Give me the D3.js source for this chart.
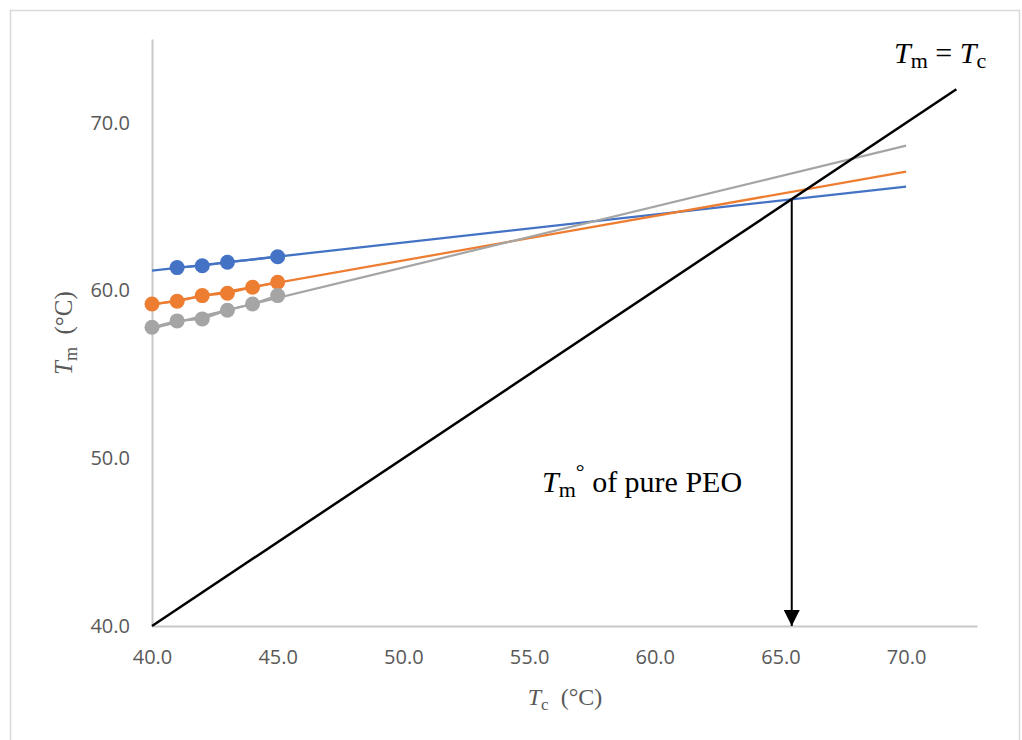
<!DOCTYPE html>
<html>
<head>
<meta charset="utf-8">
<script src="https://cdn.jsdelivr.net/npm/d3@7"></script>
<style>
  body { margin: 0; background: #fff; }
  .tick text { font-family: "Open Sans", sans-serif; font-size: 20px; fill: #595959; }
</style>
</head>
<body>
<script>
// measured data (Tc in °C, Tm in °C)
const xTicks = [40, 45, 50, 55, 60, 65, 70];
const yTicks = [40, 50, 60, 70];

const blueTc = [41, 42, 43, 45];
const blueTm = [61.37, 61.48, 61.69, 62.02];
const orangeTc = [40, 41, 42, 43, 44, 45];
const orangeTm = [59.20, 59.36, 59.70, 59.84, 60.20, 60.50];
const grayTc = [40, 41, 42, 43, 44, 45];
const grayTm = [57.81, 58.19, 58.31, 58.83, 59.20, 59.70];

// trend lines, Tc from 40 to 70
const trendTc = [40, 70];
const blueTrend = [61.19, 66.20];
const orangeTrend = [59.15, 67.09];
const grayTrend = [57.75, 68.64];

// Tm = Tc line and extrapolated Tm°
const equalLine = [40, 72];
const tmZero = 65.45;

const width = 1022, height = 740;

const svg = d3.select("body").append("svg")
  .attr("width", width)
  .attr("height", height);

// chart border
svg.append("rect")
  .attr("x", 10.5).attr("y", 10.5)
  .attr("width", 1009).attr("height", 740)
  .attr("fill", "none")
  .attr("stroke", "#D9D9D9")
  .attr("stroke-width", 1.5);

const x = d3.scaleLinear().domain([40, 72.82]).range([152, 977]);
const y = d3.scaleLinear().domain([40, 75]).range([626, 39]);

const fmt = d3.format(".1f");

// x axis
svg.append("g")
  .attr("transform", "translate(0," + y(40) + ")")
  .call(d3.axisBottom(x).tickValues(xTicks).tickSize(0).tickSizeOuter(0).tickFormat(fmt).tickPadding(24));
// y axis
svg.append("g")
  .attr("transform", "translate(" + x(40) + ",0)")
  .call(d3.axisLeft(y).tickValues(yTicks).tickSize(0).tickSizeOuter(0).tickFormat(fmt).tickPadding(22));

svg.selectAll(".domain").attr("stroke", "#C8C8C8").attr("stroke-width", 2);

// series
const series = [
  {tc: blueTc, tm: blueTm, trend: blueTrend, color: "#4472C4"},
  {tc: orangeTc, tm: orangeTm, trend: orangeTrend, color: "#ED7D31"},
  {tc: grayTc, tm: grayTm, trend: grayTrend, color: "#A5A5A5"}
];

const line = d3.line().x(d => x(d[0])).y(d => y(d[1]));

series.forEach(s => {
  svg.append("path")
    .datum(trendTc.map((t, i) => [t, s.trend[i]]))
    .attr("d", line)
    .attr("fill", "none")
    .attr("stroke", s.color)
    .attr("stroke-width", 2.25);
});

// connecting segments between markers, drawn under markers
series.forEach(s => {
  svg.append("path")
    .datum(s.tc.map((t, i) => [t, s.tm[i]]))
    .attr("d", line)
    .attr("fill", "none")
    .attr("stroke", s.color)
    .attr("stroke-width", 2.25);
  svg.selectAll(null)
    .data(s.tc.map((t, i) => [t, s.tm[i]]))
    .enter().append("circle")
    .attr("cx", d => x(d[0]))
    .attr("cy", d => y(d[1]))
    .attr("r", 7.5)
    .attr("fill", s.color);
});

// Tm = Tc line
svg.append("path")
  .datum(equalLine.map(v => [v, v]))
  .attr("d", line)
  .attr("fill", "none")
  .attr("stroke", "#000")
  .attr("stroke-width", 2.5);

// arrow down to Tm°
svg.append("defs").append("marker")
  .attr("id", "arrow")
  .attr("viewBox", "0 0 10 10")
  .attr("refX", 10).attr("refY", 5)
  .attr("markerUnits", "userSpaceOnUse")
  .attr("markerWidth", 16).attr("markerHeight", 16)
  .attr("orient", "auto")
  .append("path")
  .attr("d", "M0,0 L10,5 L0,10 Z")
  .attr("fill", "#000");

svg.append("line")
  .attr("x1", x(tmZero)).attr("y1", y(tmZero))
  .attr("x2", x(tmZero)).attr("y2", y(40))
  .attr("stroke", "#000")
  .attr("stroke-width", 2)
  .attr("marker-end", "url(#arrow)");

// axis titles
const serif = "'Liberation Serif', 'Times New Roman', serif";

const xt = svg.append("text")
  .attr("x", 565).attr("y", 705)
  .attr("text-anchor", "middle")
  .attr("font-family", serif).attr("font-size", 24).attr("fill", "#595959");
xt.append("tspan").attr("font-style", "italic").text("T");
xt.append("tspan").attr("font-size", 17).attr("dy", 5).text("c");
xt.append("tspan").attr("dy", -5).text("\u00a0 (°C)");

const yt = svg.append("text")
  .attr("transform", "translate(72,333) rotate(-90)")
  .attr("text-anchor", "middle")
  .attr("font-family", serif).attr("font-size", 25).attr("fill", "#595959");
yt.append("tspan").attr("font-style", "italic").text("T");
yt.append("tspan").attr("font-size", 18).attr("dy", 5).text("m");
yt.append("tspan").attr("dy", -5).text("\u00a0 (°C)");

// annotations
const a1 = svg.append("text")
  .attr("x", 894).attr("y", 63)
  .attr("font-family", serif).attr("font-size", 30).attr("fill", "#000");
a1.append("tspan").attr("font-style", "italic").text("T");
a1.append("tspan").attr("font-size", 22).attr("dy", 5).text("m");
a1.append("tspan").attr("dy", -5).text(" = ");
a1.append("tspan").attr("font-style", "italic").text("T");
a1.append("tspan").attr("font-size", 22).attr("dy", 5).text("c");

const a2 = svg.append("text")
  .attr("x", 542).attr("y", 492)
  .attr("font-family", serif).attr("font-size", 30).attr("fill", "#000");
a2.append("tspan").attr("font-style", "italic").text("T");
a2.append("tspan").attr("font-size", 22).attr("dy", 5).text("m");
a2.append("tspan").attr("font-size", 22).attr("dy", -18).text("°");
a2.append("tspan").attr("dy", 13).text(" of pure PEO");
</script>
</body>
</html>
